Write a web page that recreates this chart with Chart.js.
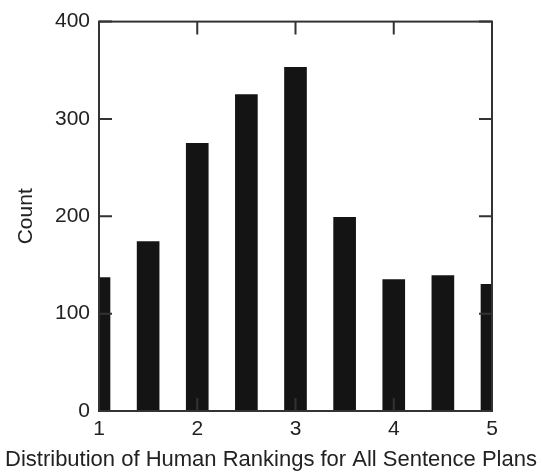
<!DOCTYPE html>
<html>
<head>
<meta charset="utf-8">
<script src="https://cdn.jsdelivr.net/npm/chart.js@4"></script>
<style>
  html, body { margin: 0; padding: 0; background: #fff; }
</style>
</head>
<body>
<canvas id="chart" width="542" height="472"></canvas>
<script>
// rankings (bin centres) and counts
const rankings = [1, 1.5, 2, 2.5, 3, 3.5, 4, 4.5, 5];
const counts = [137, 174, 275, 325, 353, 199, 135, 139, 130];
const xTicks = [1, 2, 3, 4, 5];
const yTicks = [0, 100, 200, 300, 400];
const xCaption = 'Distribution of Human Rankings for All Sentence Plans';

const FONT = "'Liberation Sans', Arial, sans-serif";
const INK = '#222';

// matlab style box with ticks pointing inward on all four sides
const boxPlugin = {
    id: 'box',
    afterDatasetsDraw(chart) {
        const { ctx, chartArea: a, scales } = chart;
        const len = 13;
        ctx.save();
        ctx.strokeStyle = '#333';
        ctx.lineWidth = 2;
        ctx.strokeRect(a.left, a.top, a.right - a.left, a.bottom - a.top);
        ctx.beginPath();
        xTicks.forEach(v => {
            const px = scales.x.getPixelForValue(v);
            ctx.moveTo(px, a.bottom); ctx.lineTo(px, a.bottom - len);
            ctx.moveTo(px, a.top); ctx.lineTo(px, a.top + len);
        });
        yTicks.forEach(v => {
            const py = scales.y.getPixelForValue(v);
            ctx.moveTo(a.left, py); ctx.lineTo(a.left + len, py);
            ctx.moveTo(a.right, py); ctx.lineTo(a.right - len, py);
        });
        ctx.stroke();

        // x caption is wider than the axis, so chart.js would squeeze it
        ctx.fillStyle = INK;
        ctx.font = "22px " + FONT;
        ctx.textAlign = 'center';
        ctx.textBaseline = 'middle';
        ctx.fillText(xCaption, chart.width / 2, 460);
        ctx.restore();
    }
};

new Chart(document.getElementById('chart').getContext('2d'), {
    type: 'bar',
    data: {
        datasets: [{
            data: rankings.map((r, i) => ({ x: r, y: counts[i] })),
            backgroundColor: '#141414',
            borderWidth: 0,
            barThickness: 22,
            clip: 0,
        }],
    },
    options: {
        responsive: false,
        animation: false,
        devicePixelRatio: 1,
        layout: { padding: { top: 16, right: 50, left: 0, bottom: 0 } },
        plugins: {
            legend: { display: false },
            tooltip: { enabled: false },
        },
        scales: {
            x: {
                type: 'linear',
                min: 1,
                max: 5,
                offset: false,
                grid: { display: false, offset: false, drawTicks: false },
                border: { display: false },
                afterFit: s => { s.height = 61; },
                afterBuildTicks: s => { s.ticks = xTicks.map(v => ({ value: v })); },
                ticks: {
                    color: INK,
                    font: { family: FONT, size: 21 },
                    padding: 6,
                    maxRotation: 0,
                },
            },
            y: {
                min: 0,
                max: 400,
                grid: { display: false, drawTicks: false },
                border: { display: false },
                afterFit: s => { s.width = 99; },
                afterBuildTicks: s => { s.ticks = yTicks.map(v => ({ value: v })); },
                ticks: {
                    color: INK,
                    font: { family: FONT, size: 21 },
                    padding: 9,
                },
                title: {
                    display: true,
                    text: 'Count',
                    color: INK,
                    font: { family: FONT, size: 21 },
                    padding: { top: 14, bottom: 0 },
                },
            },
        },
    },
    plugins: [boxPlugin],
});
</script>
</body>
</html>
